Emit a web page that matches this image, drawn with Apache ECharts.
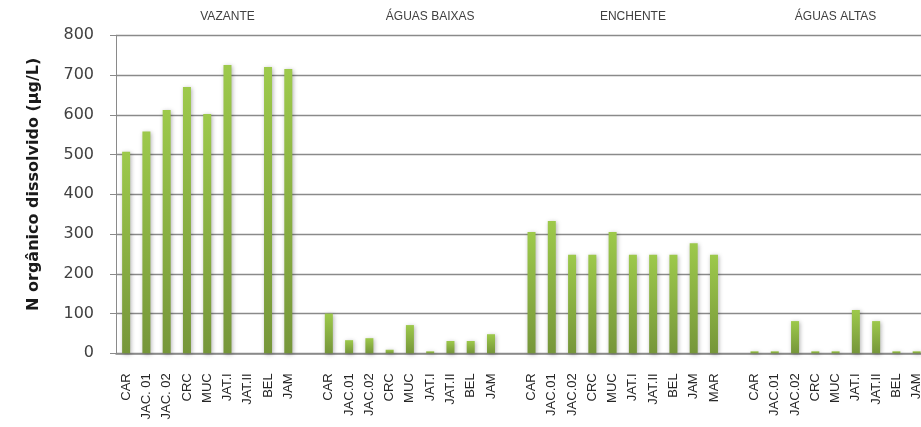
<!DOCTYPE html>
<html>
<head>
<meta charset="utf-8">
<script src="https://cdn.jsdelivr.net/npm/echarts@6/dist/echarts.min.js"></script>
<style>
html,body{margin:0;padding:0;background:#fff;}
#chart{width:921px;height:427px;}
</style>
</head>
<body>
<div id="chart"></div>
<script>
// ---- data ----
const vazanteSites = ['CAR','JAC. 01','JAC. 02','CRC','MUC','JAT.I','JAT.II','BEL','JAM'];
const vazanteValues = [507, 558, 612, 670, 602, 725, null, 720, 715];

const baixasSites = ['CAR','JAC.01','JAC.02','CRC','MUC','JAT.I','JAT.II','BEL','JAM'];
const baixasValues = [100, 33, 38, 9, 71, 0, 31, 31, 48];

const enchenteSites = ['CAR','JAC.01','JAC.02','CRC','MUC','JAT.I','JAT.II','BEL','JAM','MAR'];
const enchenteValues = [305, 333, 248, 248, 305, 248, 248, 248, 277, 248];

const altasSites = ['CAR','JAC.01','JAC.02','CRC','MUC','JAT.I','JAT.II','BEL','JAM'];
const altasValues = [0, 0, 81, 0, 0, 109, 81, 0, 0];

const groupNames = ['VAZANTE','ÁGUAS BAIXAS','ENCHENTE','ÁGUAS ALTAS'];
const groupLabelSlot = [5, 15, 25, 35]; // category index where each period label sits

const yTicks = [0, 100, 200, 300, 400, 500, 600, 700, 800];
const yTitle = 'N orgânico dissolvido (µg/L)';

// ---- build categories ----
const groups = [
  [vazanteSites, vazanteValues],
  [baixasSites, baixasValues],
  [enchenteSites, enchenteValues],
  [altasSites, altasValues]
];
const categories = [];
const values = [];
groups.forEach((g, i) => {
  if (i > 0) { categories.push(''); values.push(null); }
  g[0].forEach((s, j) => { categories.push(s); values.push(g[1][j]); });
});
const topLabels = categories.map(() => '');
groupNames.forEach((n, i) => { topLabels[groupLabelSlot[i]] = n; });

const chart = echarts.init(document.getElementById('chart'));
const band = 20.27;
chart.setOption({
  animation: false,
  backgroundColor: '#ffffff',
  grid: {
    left: 116, top: 35.3, height: 318, width: band * categories.length,
    outerBoundsMode: 'none', containLabel: false
  },
  xAxis: [
    {
      type: 'category',
      data: categories,
      position: 'bottom',
      axisLine: { lineStyle: { color: '#8a8a8a', width: 1.5 } },
      axisTick: { show: false },
      axisLabel: {
        interval: 0, rotate: 90, margin: 20,
        fontFamily: 'Liberation Sans', fontSize: 13, color: '#262626'
      }
    },
    {
      type: 'category',
      data: topLabels,
      position: 'top',
      axisLine: { show: false },
      axisTick: { show: false },
      axisLabel: {
        interval: 0, margin: 13,
        fontFamily: 'Liberation Sans', fontSize: 12, color: '#404040'
      }
    }
  ],
  yAxis: {
    type: 'value',
    min: yTicks[0], max: yTicks[yTicks.length - 1], interval: 100,
    name: yTitle,
    nameLocation: 'middle',
    nameGap: 74,
    nameRotate: 90,
    nameTextStyle: { fontFamily: 'DejaVu Sans', fontWeight: 'bold', fontSize: 16, color: '#1a1a1a', padding: [0, 0, 0, 20] },
    axisLine: { show: true, lineStyle: { color: '#8a8a8a', width: 1 } },
    axisTick: { show: true, length: 6, lineStyle: { color: '#8a8a8a' } },
    splitLine: { lineStyle: { color: '#8a8a8a', width: 1.3 } },
    axisLabel: { fontFamily: 'DejaVu Sans', fontSize: 16, color: '#404040', margin: 22 }
  },
  series: [{
    type: 'bar',
    data: values,
    barWidth: 8,
    barMinHeight: 2,
    xAxisIndex: 0,
    itemStyle: {
      color: new echarts.graphic.LinearGradient(0, 0, 0, 1, [
        { offset: 0, color: '#9dc94b' },
        { offset: 1, color: '#76963a' }
      ]),
      shadowBlur: 4,
      shadowColor: 'rgba(0,0,0,0.3)',
      shadowOffsetX: 1,
      shadowOffsetY: 1
    }
  }]
});
</script>
</body>
</html>
